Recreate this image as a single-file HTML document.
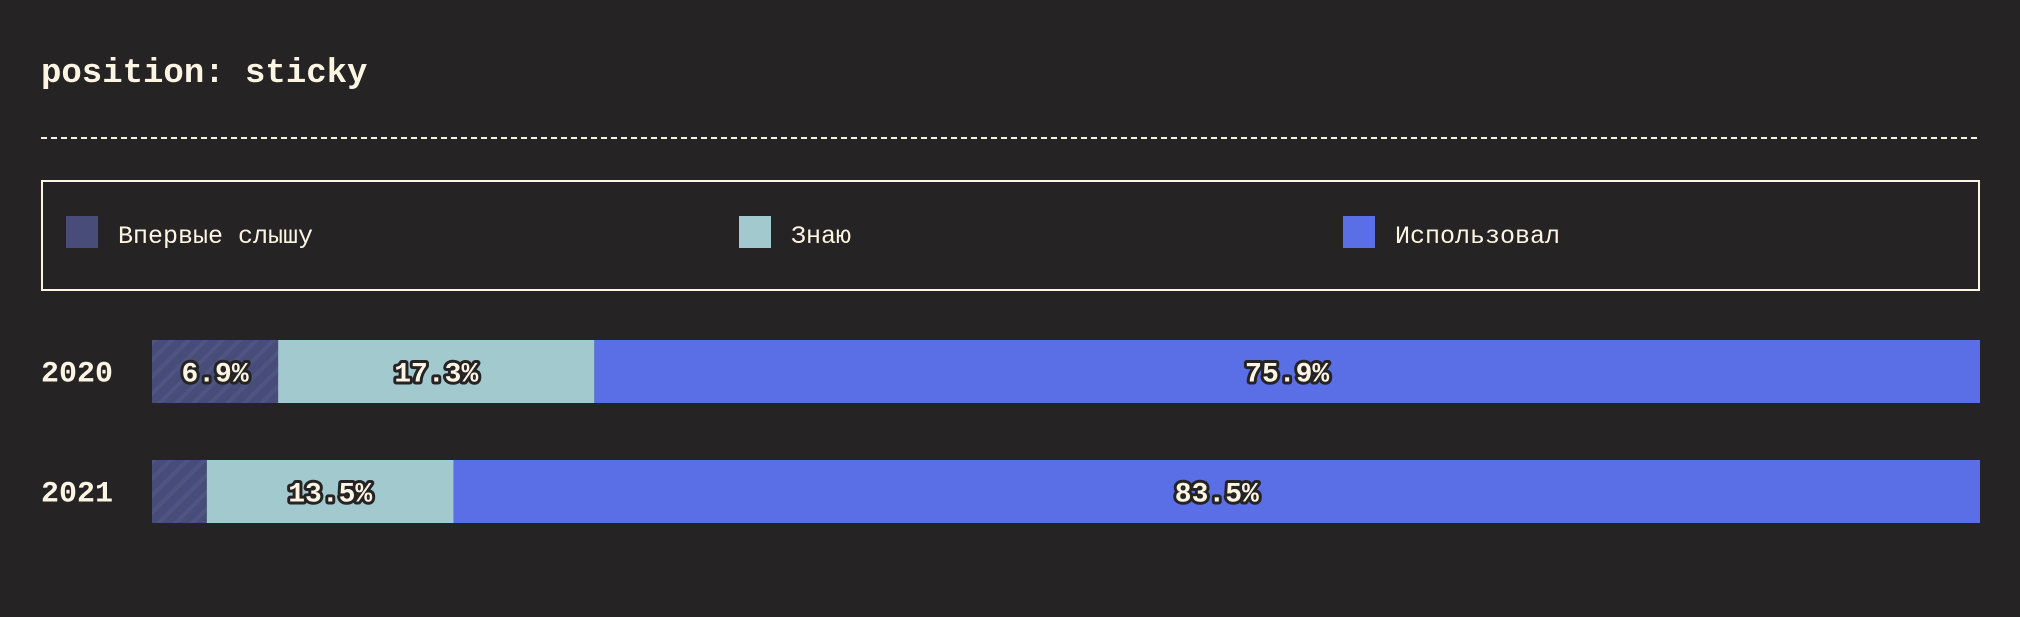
<!DOCTYPE html>
<html><head><meta charset="utf-8"><style>
html,body{margin:0;padding:0;background:#262324;}
body{width:2020px;height:612px;overflow:hidden;position:relative;font-family:"Liberation Mono",monospace;color:#fdf5e4;}
</style></head><body>
<svg width="2020" height="612" xmlns="http://www.w3.org/2000/svg">
<defs>
<pattern id="stripes" width="12" height="12" patternUnits="userSpaceOnUse" patternTransform="rotate(45)">
<rect width="12" height="12" fill="#474d78"/>
<rect width="4" height="12" fill="#4f5582"/>
</pattern>
</defs>
<text x="41" y="82" font-family="Liberation Mono, monospace" font-weight="bold" font-size="34" fill="#fdf5e4">position: sticky</text>
<line x1="41" y1="138" x2="1980" y2="138" stroke="#fdf5e4" stroke-width="2" stroke-dasharray="6,4"/>
<rect x="42" y="181" width="1937" height="109" fill="none" stroke="#fdf5e4" stroke-width="2"/>
<g id="legend"></g>
<g id="bars"></g>
</svg>
<script>
const categories = ["2020", "2021"];
const seriesNames = ["Впервые слышу", "Знаю", "Использовал"];
const firstHeard = [6.9, 3.0];
const know = [17.3, 13.5];
const used = [75.9, 83.5];
// per series: which categories show a value label
const labelFirstHeard = [true, false];
const labelKnow = [true, true];
const labelUsed = [true, true];

const svg = document.querySelector('svg');
const NS = 'http://www.w3.org/2000/svg';
const x0 = 152, x1 = 1980;
const xScale = v => (v / 100) * (x1 - x0);
const rowY = i => 340 + i * 120;
const barH = 63;
const fills = ["url(#stripes)", "#a2cace", "#5a6ee6"];
const swatch = ["#474d78", "#a2cace", "#5a6ee6"];
const legendX = [66, 739, 1343];

const lg = document.getElementById('legend');
seriesNames.forEach((n, i) => {
  const r = document.createElementNS(NS, 'rect');
  r.setAttribute('x', legendX[i]); r.setAttribute('y', 216);
  r.setAttribute('width', 32); r.setAttribute('height', 32);
  r.setAttribute('fill', swatch[i]);
  
  
  lg.appendChild(r);
  const t = document.createElementNS(NS, 'text');
  t.setAttribute('x', legendX[i] + 52); t.setAttribute('y', 243);
  t.setAttribute('font-size', '25'); t.setAttribute('fill', '#fdf5e4');
  t.setAttribute('font-family', 'Liberation Mono, monospace');
  t.textContent = n;
  
  
  lg.appendChild(t);
});

const bg = document.getElementById('bars');
const series = [firstHeard, know, used];
const labels = [labelFirstHeard, labelKnow, labelUsed];
categories.forEach((c, i) => {
  const y = rowY(i);
  const yl = document.createElementNS(NS, 'text');
  yl.setAttribute('x', 41); yl.setAttribute('y', y + barH / 2 + 10);
  yl.setAttribute('font-size', '30'); yl.setAttribute('font-weight', 'bold');
  yl.setAttribute('fill', '#fdf5e4');
  yl.setAttribute('font-family', 'Liberation Mono, monospace');
  yl.textContent = c;
  
  
  bg.appendChild(yl);
  let acc = 0;
  series.forEach((s, k) => {
    const v = s[i];
    const xs = x0 + xScale(acc);
    const w = Math.min(xScale(v), x1 - xs);
    const r = document.createElementNS(NS, 'rect');
    r.setAttribute('x', xs); r.setAttribute('y', y);
    r.setAttribute('width', w); r.setAttribute('height', barH);
    r.setAttribute('fill', fills[k]);
    
    
    bg.appendChild(r);
    if (labels[k][i]) {
      const t = document.createElementNS(NS, 'text');
      t.setAttribute('x', xs + w / 2); t.setAttribute('y', y + barH / 2 + 10);
      t.setAttribute('text-anchor', 'middle');
      t.setAttribute('font-size', '28'); t.setAttribute('font-weight', 'bold');
      t.setAttribute('font-family', 'Liberation Mono, monospace');
      t.setAttribute('fill', '#fdf5e4');
      t.setAttribute('stroke', '#262324'); t.setAttribute('stroke-width', '6');
      t.setAttribute('paint-order', 'stroke'); t.setAttribute('stroke-linejoin', 'round');
      t.textContent = v.toFixed(1) + '%';
      
      
      bg.appendChild(t);
    }
    acc += v;
  });
});
</script>
</body></html>
